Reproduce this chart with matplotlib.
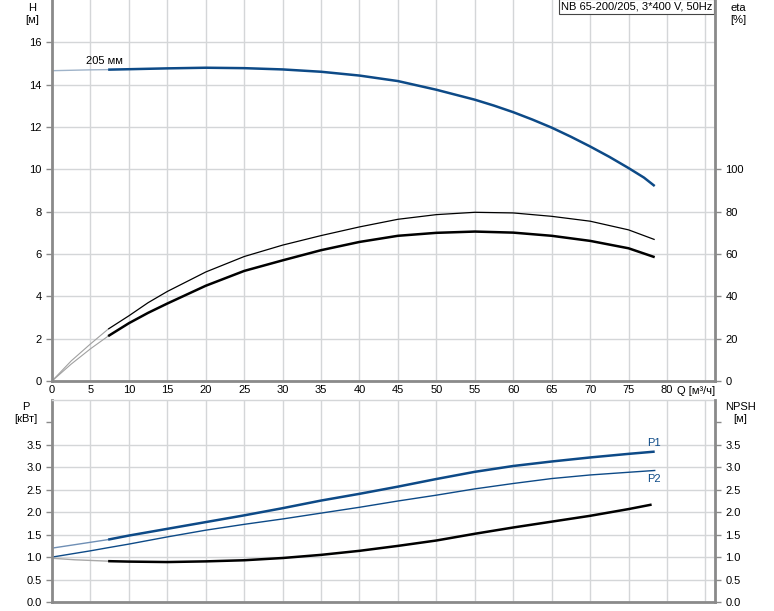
import matplotlib.pyplot as plt
import numpy as np

plt.rcParams['font.family'] = ['Liberation Sans', 'DejaVu Sans']

# curve data (Q in m3/h)
q_min = 7.3  # start of the bold (allowed) range

q_h = [0, 2.5, 5, 7.3, 10, 15, 20, 25, 30, 35, 40, 45, 50, 55, 57.5, 60, 62.5,
       65, 67.5, 70, 72.5, 75, 77, 78.4]
h_205 = [14.66, 14.68, 14.70, 14.71, 14.73, 14.77, 14.80, 14.78, 14.72, 14.61,
         14.43, 14.17, 13.76, 13.29, 13.01, 12.70, 12.35, 11.97, 11.54, 11.08,
         10.59, 10.06, 9.61, 9.21]

q_eta = [0, 2.5, 5, 7.3, 10, 12.5, 15, 20, 25, 30, 35, 40, 45, 50, 55, 60, 65,
         70, 75, 78.4]
eta_pump = [0, 9.5, 17.5, 24.5, 30.8, 37.0, 42.3, 51.5, 58.8, 64.2, 68.7, 72.8,
            76.4, 78.6, 79.7, 79.4, 77.8, 75.5, 71.4, 66.8]
eta_total = [0, 8.0, 15.2, 21.2, 27.3, 32.2, 36.6, 45.0, 52.0, 57.0, 61.8, 65.7,
             68.6, 70.0, 70.6, 70.1, 68.6, 66.2, 62.7, 58.5]

q_p = [0, 5, 7.3, 10, 15, 20, 25, 30, 35, 40, 45, 50, 55, 60, 65, 70, 75, 78.4]
p1 = [1.20, 1.33, 1.39, 1.48, 1.63, 1.78, 1.93, 2.09, 2.26, 2.41, 2.57, 2.74,
      2.90, 3.03, 3.13, 3.22, 3.30, 3.35]
p2 = [1.00, 1.14, 1.21, 1.29, 1.45, 1.60, 1.73, 1.85, 1.98, 2.11, 2.25, 2.38,
      2.52, 2.64, 2.75, 2.83, 2.89, 2.93]

q_npsh = [0, 3, 7.3, 10, 15, 20, 25, 30, 35, 40, 45, 50, 55, 60, 65, 70, 75, 78.0]
npsh = [0.975, 0.94, 0.91, 0.90, 0.89, 0.905, 0.93, 0.98, 1.05, 1.14, 1.25, 1.37,
        1.52, 1.66, 1.79, 1.92, 2.07, 2.17]

title = "NB 65-200/205, 3*400 V, 50Hz"
blue = '#0d4a87'
grid_c = '#d4d6d8'
spine_c = '#8a8a8a'
fs = 8

W, H = 774, 611
fig = plt.figure(figsize=(W / 100, H / 100), dpi=100)
xmax = (715 - 52) / 7.6875


def frac(l, t, r, b):
    return [l / W, 1 - b / H, (r - l) / W, (b - t) / H]


def style(ax, ymax, yticks):
    ax.set_xlim(0, xmax)
    ax.set_ylim(0, ymax)
    ax.set_xticks(np.arange(0, 86, 5))
    ax.set_yticks(yticks)
    ax.grid(True, color=grid_c, lw=1.0)
    ax.set_axisbelow(True)
    for s in ['left', 'bottom']:
        ax.spines[s].set_color(spine_c)
        ax.spines[s].set_linewidth(2)
    ax.spines['top'].set_visible(False)
    ax.spines['right'].set_visible(False)
    ax.tick_params(axis='y', colors=spine_c, labelcolor='black', length=4,
                   width=1, labelsize=fs, direction='out')
    ax.tick_params(axis='x', length=0, labelsize=fs, pad=3)


def right_axis(ax, ymax, ticks, labels=None):
    axr = ax.twinx()
    axr.set_ylim(0, ymax)
    axr.set_yticks(ticks)
    if labels is not None:
        axr.set_yticklabels(labels)
    for s in ['top', 'left', 'bottom']:
        axr.spines[s].set_visible(False)
    axr.spines['right'].set_color(spine_c)
    axr.spines['right'].set_linewidth(2)
    axr.tick_params(axis='y', colors=spine_c, labelcolor='black', length=4,
                    width=1, labelsize=fs)
    return axr


def split_plot(ax, q, y, thin_c, thin_lw, c, lw):
    q = np.asarray(q)
    y = np.asarray(y)
    lo = q <= q_min
    hi = q >= q_min
    ax.plot(q[lo], y[lo], color=thin_c, lw=thin_lw, solid_capstyle='butt')
    ax.plot(q[hi], y[hi], color=c, lw=lw, solid_capstyle='butt')


# ---- top panel: head + efficiency
ax1 = fig.add_axes(frac(52, 0, 715, 381))
style(ax1, 18, np.arange(0, 17, 2))
ax1.set_xticklabels([str(v) if v <= 80 else '' for v in range(0, 86, 5)])
split_plot(ax1, q_h, h_205, '#9fb3c9', 1.0, blue, 1.8)
split_plot(ax1, q_eta, np.array(eta_pump) / 10, '#a0a0a0', 0.8, 'black', 0.9)
split_plot(ax1, q_eta, np.array(eta_total) / 10, '#a0a0a0', 0.8, 'black', 1.8)
ax1.text(4.4, 14.9, "205 мм", fontsize=fs, va='bottom', ha='left')
ax1.text(81.3, -0.45, "Q [м³/ч]", fontsize=fs, va='center', ha='left')
ax1.annotate(title, xy=(1, 1), xycoords='axes fraction', xytext=(-2, -1),
             textcoords='offset points', ha='right', va='top', fontsize=fs,
             bbox=dict(boxstyle='square,pad=0.2', fc='white', ec='#444444', lw=0.8))

right_axis(ax1, 180, np.arange(0, 101, 20))

fig.text(32 / W, 1 - 3 / H, "H\n[м]", fontsize=fs, ha='center', va='top',
         linespacing=1.3)
fig.text(738 / W, 1 - 3 / H, "eta\n[%]", fontsize=fs, ha='center', va='top',
         linespacing=1.3)

# ---- bottom panel: power + NPSH
p_ticks = np.arange(0, 4.01, 0.5)
p_labels = [f"{v:.1f}" if v < 3.9 else '' for v in p_ticks]
ax2 = fig.add_axes(frac(52, 400, 715, 602))
style(ax2, 4.5, p_ticks)
ax2.set_xticklabels([])
ax2.set_yticklabels(p_labels)
ax2.yaxis.get_gridlines()[-1].set_visible(False)
ax2.spines['top'].set_visible(True)
ax2.spines['top'].set_color(grid_c)
ax2.spines['top'].set_linewidth(1)
split_plot(ax2, q_p, p1, '#6f8fb5', 1.0, blue, 1.8)
ax2.plot(q_p, p2, color=blue, lw=1.0)
split_plot(ax2, q_npsh, npsh, '#a8a8a8', 1.0, 'black', 1.8)
ax2.text(77.4, 3.42, "P1", fontsize=fs, color=blue, va='bottom', ha='left')
ax2.text(77.4, 2.86, "P2", fontsize=fs, color=blue, va='top', ha='left')

right_axis(ax2, 4.5, p_ticks, p_labels)

fig.text(26 / W, 1 - 402 / H, "P\n[кВт]", fontsize=fs, ha='center', va='top',
         linespacing=1.3)
fig.text(740 / W, 1 - 402 / H, "NPSH\n[м]", fontsize=fs, ha='center', va='top',
         linespacing=1.3)

fig.savefig('out.png', dpi=100)
